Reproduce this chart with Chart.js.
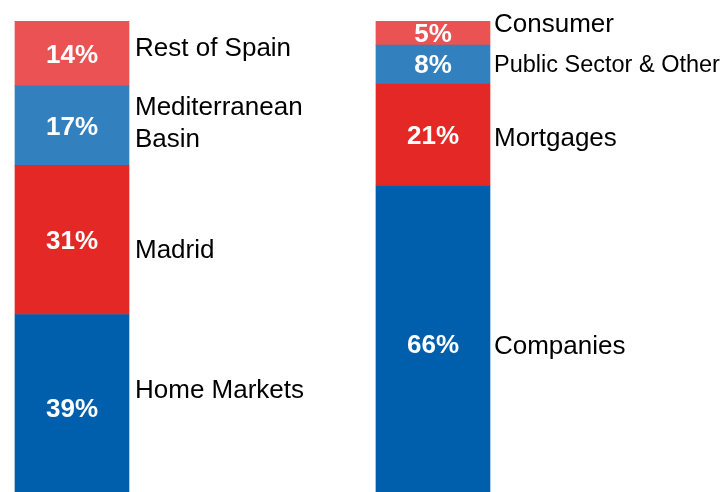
<!DOCTYPE html>
<html lang="en">
<head>
  <meta charset="UTF-8" />
  <title>Loan book breakdown</title>
  <script src="https://cdn.jsdelivr.net/npm/chart.js"></script>
  <style>
    html, body { margin: 0; padding: 0; background: #fff; overflow: hidden; }
    #wrap { width: 726px; height: 492px; }
  </style>
</head>
<body>
  <div id="wrap"><canvas id="mixChart" width="726" height="492"></canvas></div>

  <script>
    // left bar: by geography (bottom to top)
    const geoNames = ["Home Markets", "Madrid", ["Mediterranean", "Basin"], "Rest of Spain"];
    const geoShares = [39.0, 31.0, 16.5, 13.5];

    // right bar: by product (bottom to top)
    const productNames = ["Companies", "Mortgages", "Public Sector & Other", "Consumer"];
    const productShares = [65.8, 21.2, 8.0, 5.0];

    const barPositions = [0, 1];
    const segmentColors = ["#005FAD", "#E42826", "#3380BF", "#EB5254"];

    // small vertical nudges for the side labels, as in the original slide
    const nameNudge = [[-18, 10, -3, -6], [2, 3, 0, -9]];

    const sideLabels = {
      id: "sideLabels",
      afterDatasetsDraw(chart) {
        const ctx = chart.ctx;
        const names = [geoNames, productNames];
        ctx.save();
        chart.data.datasets.forEach((ds, di) => {
          const meta = chart.getDatasetMeta(di);
          meta.data.forEach((bar, bi) => {
            const p = bar.getProps(["x", "y", "base", "width"], true);
            const cy = (p.y + p.base) / 2;
            // percentage inside the bar
            ctx.fillStyle = "#fff";
            ctx.font = "bold 26px 'Liberation Sans', Arial, sans-serif";
            ctx.textAlign = "center";
            ctx.textBaseline = "middle";
            ctx.fillText(Math.round(ds.data[bi].y) + "%", p.x, cy + 2);

            // name to the right of the bar
            let name = names[bi][di];
            const lines = Array.isArray(name) ? name : [name];
            const size = name === "Public Sector & Other" ? 23.5 : 26;
            ctx.fillStyle = "#000";
            ctx.font = size + "px 'Liberation Sans', Arial, sans-serif";
            ctx.textAlign = "left";
            const lh = 32;
            const y0 = cy + 1 + nameNudge[bi][di] - (lines.length - 1) * lh / 2;
            lines.forEach((ln, li) => {
              ctx.fillText(ln, p.x + p.width / 2 + (bi === 0 ? 6 : 4), y0 + li * lh);
            });
          });
        });
        ctx.restore();
      }
    };

    const ctx = document.getElementById("mixChart").getContext("2d");
    new Chart(ctx, {
      type: "bar",
      data: {
        datasets: segmentColors.map((c, i) => ({
          data: barPositions.map((x, j) => ({ x, y: (j === 0 ? geoShares : productShares)[i] })),
          backgroundColor: c,
          borderWidth: 0,
          barThickness: 114
        }))
      },
      options: {
        responsive: false,
        animation: false,
        layout: { padding: { top: 21, left: 0, right: 0, bottom: 0 } },
        plugins: { legend: { display: false }, tooltip: { enabled: false } },
        scales: {
          x: { type: "linear", stacked: true, offset: false, min: -0.1994, max: 1.8117, display: false },
          y: { stacked: true, min: 2.1, max: 100, display: false }
        }
      },
      plugins: [sideLabels]
    });
  </script>
</body>
</html>
